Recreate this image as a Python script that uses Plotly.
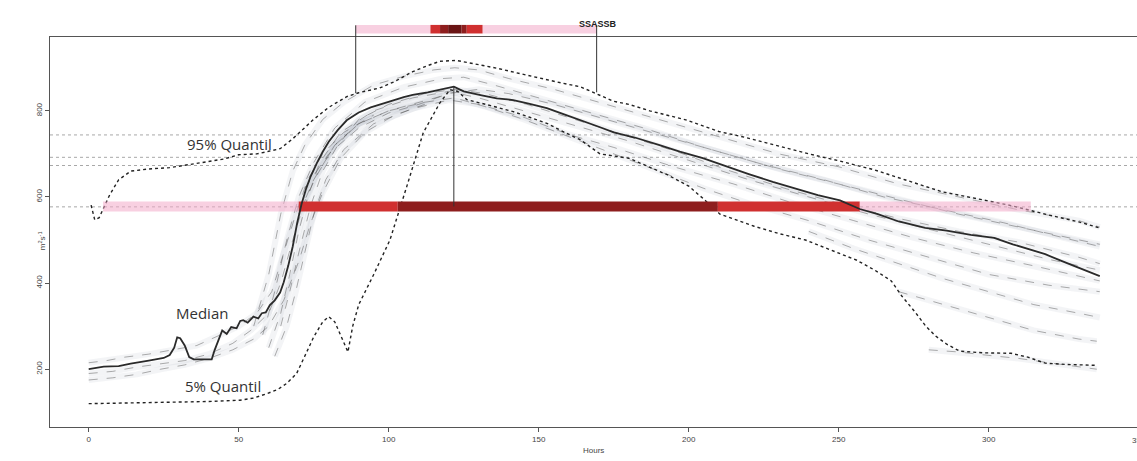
import plotly.graph_objects as go

# ---------------- data ----------------
MED_H = [0, 5, 10, 14, 20, 25, 27, 28.5, 29.5, 30.5, 32, 33.5, 35, 41, 42, 43, 44.5, 46, 47.5, 49.3,
         50.5, 51.5, 53, 54.9, 56.5, 57.7, 59, 60.4, 62, 63.8, 65, 66.5, 68, 69.5, 71, 72.5, 74, 76, 78,
         80, 83, 86, 90, 94, 97, 101, 105, 108, 113, 118, 121.7, 125, 128, 131, 136, 141.5, 147, 152.7,
         158, 163.8, 170, 175, 182, 190, 197, 204.7, 212, 220, 228, 236, 243, 250.4, 257, 263, 270,
         278.8, 286, 294, 301.8, 308, 314, 318.8, 324, 330, 337]
MED_V = [200, 206, 207, 213, 220, 226, 233, 250, 274, 272, 255, 228, 223, 223, 245, 262, 290, 282, 298, 295,
         312, 314, 308, 322, 318, 330, 332, 349, 360, 378, 402, 440, 485, 540, 585, 620, 648, 678, 705,
         728, 755, 778, 796, 808, 814, 823, 832, 837, 843, 850, 856, 845, 840, 836, 829, 825, 816, 806,
         793, 779, 763, 750, 738, 721, 705, 690, 672, 653, 635, 618, 604, 592, 572, 560, 543,
         528, 522, 512, 505, 490, 478, 467, 452, 436, 416]

Q95_H = [0.8, 2, 3.5, 5, 7, 10, 14, 20, 27, 37, 45, 50, 56, 60, 63.8, 68, 72, 74.8, 80, 86, 90, 97, 102,
         108, 113, 117, 122.6, 128, 136, 144, 152.7, 158, 163.8, 170, 175, 180, 187, 199, 210, 219, 227,
         240, 250, 261.8, 272, 284.4, 296, 307.4, 320, 330, 337]
Q95_V = [581, 547, 552, 575, 605, 640, 660, 665, 668, 679, 688, 698, 700, 706, 712, 735, 760, 779, 808,
         833, 842, 853, 868, 891, 905, 915, 917, 910, 899, 886, 872, 864, 856, 838, 822, 815, 800, 779,
         752, 738, 723, 700, 684, 663, 640, 612, 596, 580, 558, 542, 528]

Q5_H = [0, 10, 20, 30.4, 40, 50.4, 55, 59.3, 63, 66, 69.3, 72, 75, 78, 80, 82, 84, 86.4, 88, 90, 95,
        100.4, 106, 111.5, 117, 120.4, 123, 126, 134, 141.5, 147, 152.7, 158, 163.8, 170.4, 180, 193,
        200, 205, 210.4, 221.8, 230, 238.9, 247, 256, 262, 267.5, 271, 275.4, 279, 282.3, 286, 290.3,
        298, 307.4, 313, 318.8, 326, 336]
Q5_V = [120, 121, 122, 124, 125, 128, 133, 143, 153, 167, 190, 230, 275, 310, 322, 310, 280, 240, 300,
        350, 420, 500, 624, 749, 818, 849, 845, 826, 812, 798, 785, 771, 752, 733, 700, 690, 651,
        625, 595, 560, 532, 515, 500, 478, 453, 430, 405, 370, 333, 300, 277, 258, 242,
        238, 237, 228, 214, 211, 209]

# ensemble members (hours, values)
MEMBERS = {
    "A": ([55, 60, 64, 68, 72, 78, 85, 95, 105, 115, 122, 130, 140, 155, 170, 190, 210, 230, 250, 270, 290, 310, 330, 337],
          [300, 420, 560, 660, 720, 780, 820, 860, 880, 895, 900, 895, 875, 850, 820, 780, 740, 700, 670, 630, 600, 570, 545, 530]),
    "B": ([58, 62, 66, 70, 75, 82, 92, 105, 118, 125, 135, 150, 165, 185, 205, 225, 245, 265, 285, 305, 325, 337],
          [280, 380, 500, 600, 680, 760, 820, 855, 875, 878, 860, 830, 800, 760, 715, 675, 640, 600, 570, 540, 505, 485]),
    "C": ([60, 64, 67, 70, 73, 77, 84, 95, 108, 120, 130, 145, 160, 180, 200, 220, 240, 260, 280, 300, 320, 337],
          [250, 330, 420, 520, 600, 680, 750, 800, 830, 845, 830, 800, 770, 730, 685, 640, 600, 560, 525, 490, 455, 430]),
    "D": ([62, 66, 69, 72, 75, 79, 85, 95, 108, 120, 130, 145, 160, 175, 195, 215, 235, 255, 275, 295, 315, 337],
          [230, 300, 380, 470, 560, 640, 710, 770, 805, 825, 815, 785, 745, 715, 670, 630, 585, 545, 505, 470, 440, 405]),
    "E": ([64, 67, 70, 74, 78, 83, 90, 100, 112, 122, 132, 146, 162, 178, 196, 214, 232, 250, 270, 290, 310, 330, 337],
          [300, 380, 470, 580, 660, 720, 780, 815, 840, 850, 840, 815, 780, 745, 705, 660, 620, 585, 550, 520, 495, 460, 445]),
    "F": ([70, 75, 82, 90, 100, 112, 122, 132, 145, 160, 175, 190, 205, 220, 240, 260, 280, 300, 320, 337],
          [560, 640, 720, 770, 800, 820, 830, 810, 780, 740, 700, 660, 620, 585, 545, 500, 460, 420, 395, 380]),
    "G": ([72, 80, 90, 100, 110, 120, 130, 140, 155, 170, 190, 210, 230, 250, 270, 290, 310, 330, 337],
          [620, 700, 760, 795, 815, 840, 850, 840, 815, 785, 745, 705, 665, 630, 595, 560, 530, 500, 490]),
    "H": ([0, 8, 16, 24, 32, 40, 48, 54, 60, 64, 68, 72, 76, 82, 90, 100, 110, 118],
          [190, 195, 205, 212, 220, 235, 260, 290, 330, 400, 500, 590, 650, 720, 770, 800, 820, 835]),
    "I": ([0, 8, 16, 24, 32, 40, 48, 55, 60, 65, 70, 74, 78, 84, 92, 102, 112],
          [175, 180, 188, 200, 210, 225, 245, 270, 300, 360, 450, 540, 610, 690, 750, 790, 815]),
    "J": ([0, 6, 12, 20, 28, 36, 44, 50, 56, 61, 65, 69, 73, 78, 85, 95],
          [215, 220, 228, 235, 245, 255, 280, 300, 330, 380, 470, 560, 640, 700, 750, 790]),
    "K": ([280, 290, 300, 310, 320, 330, 336], [245, 240, 232, 225, 215, 205, 200]),
    "L": ([270, 285, 300, 315, 330, 336], [380, 350, 320, 290, 270, 265]),
    "M": ([240, 255, 270, 285, 300, 315, 330, 337], [520, 480, 445, 410, 380, 350, 330, 320]),
}

THRESHOLDS = [744, 692, 673, 577]
BAR_LEVEL = 578
# (start hour, end hour, colour class) of the horizontal bar in the plot
PLOT_BAR = [(4.8, 70, "pink"), (70, 103, "red"), (103, 209.7, "dark"), (209.7, 257, "red"), (257, 314, "pink")]
# (start hour, end hour, colour class) of the strip above the plot
TOP_BAR = [(89, 113.9, "pink"), (113.9, 117.1, "red"), (117.1, 119.8, "dark"), (119.8, 124.3, "darkest"),
           (124.3, 126, "dark"), (126, 131.3, "red"), (131.3, 169.3, "pink")]
WINDOW_START, WINDOW_END, PEAK_H = 89, 169.3, 121.7
WINDOW_START_V, WINDOW_END_V, PEAK_V = 841, 843, 856

X_TICKS = [0, 50, 100, 150, 200, 250, 300]
Y_TICKS = [200, 400, 600, 800]
X_RANGE = [-12.9, 349.4]
Y_RANGE = [65.8, 971.4]

COLORS = {"pink": "rgba(243,170,200,0.55)", "red": "#d03030", "dark": "#8e1e1e", "darkest": "#6a1414"}

fig = go.Figure()

# haze around the bundle
for name, (h, v) in MEMBERS.items():
    fig.add_trace(go.Scatter(x=h, y=v, mode="lines", line=dict(color="rgba(140,150,170,0.10)", width=6),
                             hoverinfo="skip", showlegend=False))
for name, (h, v) in MEMBERS.items():
    fig.add_trace(go.Scatter(x=h, y=v, mode="lines", line=dict(color="rgba(70,70,70,0.55)", width=0.8, dash="dash"),
                             hoverinfo="skip", showlegend=False))

fig.add_trace(go.Scatter(x=Q95_H, y=Q95_V, mode="lines", line=dict(color="#222", width=1.4, dash="dot"),
                         showlegend=False))
fig.add_trace(go.Scatter(x=Q5_H, y=Q5_V, mode="lines", line=dict(color="#222", width=1.4, dash="dot"),
                         showlegend=False))

# horizontal bar inside plot
for a, b, c in PLOT_BAR:
    fig.add_trace(go.Scatter(x=[a, b], y=[BAR_LEVEL, BAR_LEVEL], mode="lines",
                             line=dict(color=COLORS[c], width=10), hoverinfo="skip", showlegend=False))

fig.add_trace(go.Scatter(x=MED_H, y=MED_V, mode="lines", line=dict(color="#2a2a2a", width=1.8),
                         showlegend=False))

shapes = []
for t in THRESHOLDS:
    shapes.append(dict(type="line", xref="paper", yref="y", x0=0, x1=1, y0=t, y1=t,
                       line=dict(color="rgba(110,110,110,0.6)", width=1, dash="dot"), layer="below"))

# top strip
for a, b, c in TOP_BAR:
    shapes.append(dict(type="rect", xref="x", yref="paper", x0=a, x1=b, y0=1.009, y1=1.031,
                       fillcolor=COLORS[c], line=dict(width=0)))

def vpaper(v):
    return (v - Y_RANGE[0]) / (Y_RANGE[1] - Y_RANGE[0])

for hh, vv in [(WINDOW_START, WINDOW_START_V), (WINDOW_END, WINDOW_END_V)]:
    shapes.append(dict(type="line", xref="x", yref="paper", x0=hh, x1=hh, y0=vpaper(vv), y1=1.03,
                       line=dict(color="#333", width=1)))
shapes.append(dict(type="line", xref="x", yref="y", x0=PEAK_H, x1=PEAK_H, y0=BAR_LEVEL, y1=PEAK_V,
                   line=dict(color="#333", width=1)))

annotations = [
    dict(x=47, y=722, xref="x", yref="y", text="95% Quantil", showarrow=False,
         font=dict(family="Open Sans", size=15, color="#333")),
    dict(x=37.8, y=330, xref="x", yref="y", text="Median", showarrow=False,
         font=dict(family="Open Sans", size=15, color="#333")),
    dict(x=44.8, y=161, xref="x", yref="y", text="5% Quantil", showarrow=False,
         font=dict(family="Open Sans", size=15, color="#333")),
    dict(x=169.8, y=1.051, xref="x", yref="paper", text="<b>SSASSB</b>", showarrow=False,
         font=dict(family="Liberation Sans", size=9, color="#222")),
    dict(x=-0.0138, y=0.479, xref="paper", yref="paper", text="m<sup>2</sup>s<sup>-1</sup>", textangle=-90,
         showarrow=False, font=dict(family="Liberation Sans", size=8, color="#444")),
    dict(x=0.5, y=-0.077, xref="paper", yref="paper", text="Hours", showarrow=False,
         font=dict(family="Liberation Sans", size=8, color="#444")),
    dict(x=0.9935, y=-0.034, xref="paper", yref="paper", xanchor="left", yanchor="middle", text="350",
         showarrow=False, font=dict(family="Liberation Sans", size=8, color="#444")),
]

fig.update_layout(
    width=1137, height=461, margin=dict(l=50, r=0, t=37, b=34),
    paper_bgcolor="white", plot_bgcolor="white",
    shapes=shapes, annotations=annotations, showlegend=False,
    xaxis=dict(range=X_RANGE, tickvals=X_TICKS, showgrid=False, zeroline=False, showline=True, mirror=True,
               linecolor="#555", linewidth=1, ticks="outside", ticklen=4, tickcolor="#555",
               tickfont=dict(family="Liberation Sans", size=8, color="#444")),
    yaxis=dict(range=Y_RANGE, tickvals=Y_TICKS, showgrid=False, zeroline=False, showline=True, mirror=False,
               linecolor="#555", linewidth=1, ticks="outside", ticklen=4, tickcolor="#555", tickangle=-90,
               tickfont=dict(family="Liberation Sans", size=8, color="#444")),
)

fig.write_html("out.html")
